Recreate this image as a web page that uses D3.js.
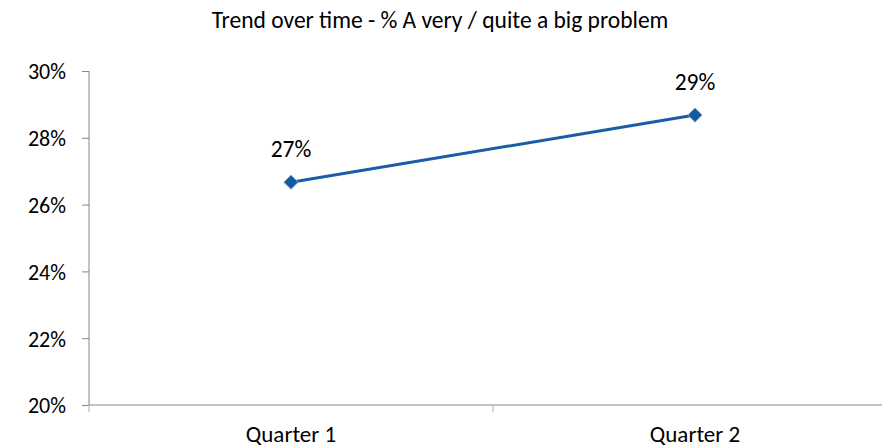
<!DOCTYPE html>
<html><head><meta charset="utf-8">
<script src="https://cdn.jsdelivr.net/npm/d3@7"></script>
<style>body{margin:0;background:#fff}svg{display:block}text{font-family:Carlito,Lato,"Open Sans",sans-serif;fill:#000}</style>
</head><body>
<script>
const categories = ["Quarter 1", "Quarter 2"];
const values = [26.67, 28.68];
const dataLabels = ["27%", "29%"];
const yTicks = [20, 22, 24, 26, 28, 30];
const title = "Trend over time - % A very / quite a big problem";

(function () {
const W = 882, H = 448;
const svg = d3.select("body").append("svg").attr("width", W).attr("height", H);
const pl = 89, pr = 897, pt = 71, pb = 405;
const x = d3.scaleBand().domain(categories).range([pl, pr]);
const y = d3.scaleLinear().domain([20, 30]).range([pb, pt]);

svg.append("text").attr("x", 440).attr("y", 28).attr("text-anchor", "middle")
  .style("font-size", "23.5px").text(title);

// y axis
const ya = svg.append("g").attr("transform", `translate(${pl},0)`)
  .call(d3.axisLeft(y).tickValues(yTicks).tickFormat(d => d + "%").tickSize(7).tickPadding(16));
ya.select(".domain").attr("stroke", "#868686").attr("d", `M0,${pt}V${pb}`);
ya.selectAll(".tick line").attr("stroke", "#868686");
ya.selectAll(".tick text").style("font-size", "22px").attr("fill", "#000").attr("dy", "0.36em");

// x axis
const xa = svg.append("g").attr("transform", `translate(0,${pb})`)
  .call(d3.axisBottom(x).tickSize(0).tickPadding(0));
xa.select(".domain").attr("stroke", "#868686").attr("d", `M${pl},0H${pr}`);
xa.selectAll(".tick text").style("font-size", "23px").attr("fill", "#000").attr("dy", null).attr("y", 37);
const bounds = [pl, ...categories.slice(1).map(c => x(c)), pr];
xa.selectAll(".bt").data(bounds).enter().append("line").attr("class", "bt")
  .attr("x1", d => d).attr("x2", d => d).attr("y1", 0).attr("y2", 7).attr("stroke", "#b0b0b0");

const cx = c => x(c) + x.bandwidth() / 2;
const pts = categories.map((c, i) => [cx(c), y(values[i])]);
svg.append("path").attr("d", d3.line()(pts)).attr("fill", "none")
  .attr("stroke", "#1A5DA6").attr("stroke-width", 3);
svg.selectAll(".m").data(pts).enter().append("path").attr("class", "m")
  .attr("transform", d => `translate(${d[0]},${d[1]})`)
  .attr("d", d3.symbol(d3.symbolDiamond2, 130)())
  .attr("fill", "#1559A0").attr("stroke", "#7FA7D3").attr("stroke-width", 1);
svg.selectAll(".dl").data(pts).enter().append("text").attr("class", "dl")
  .attr("x", d => d[0]).attr("y", d => d[1] - 25).attr("text-anchor", "middle")
  .style("font-size", "23.5px").text((d, i) => dataLabels[i]);
})();
</script>
</body></html>
